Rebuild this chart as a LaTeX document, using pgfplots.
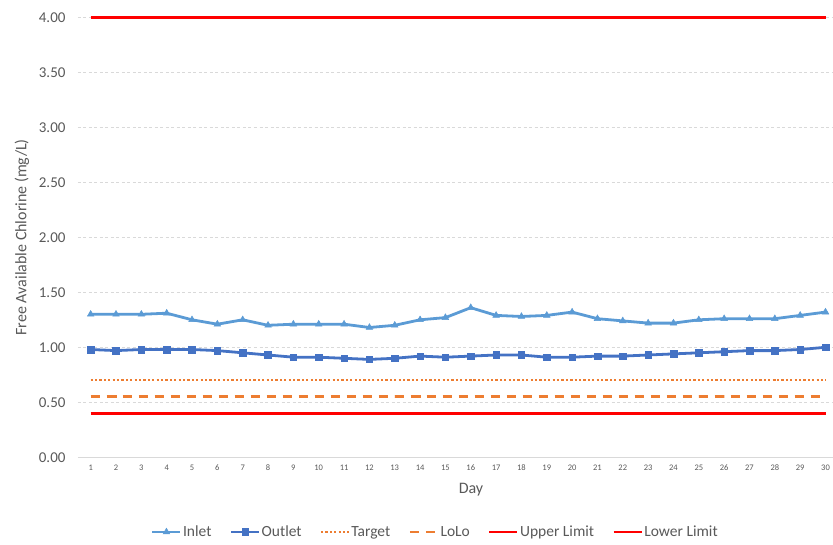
\documentclass[border=0pt]{standalone}
\usepackage{pgfplots}
\pgfplotsset{compat=1.18}
\usepackage{pgfplotstable}
\usepackage{fontspec}
\setmainfont{Carlito}
\definecolor{inlet}{HTML}{5B9BD5}
\definecolor{outlet}{HTML}{4472C4}
\definecolor{orng}{HTML}{ED7D31}
\definecolor{txt}{HTML}{595959}
\definecolor{gridc}{HTML}{D9D9D9}
\definecolor{redl}{HTML}{FF0000}

\pgfplotstableread{
day inlet outlet target lolo upper lower
1  1.30 0.98 0.70 0.55 4.00 0.40
2  1.30 0.97 0.70 0.55 4.00 0.40
3  1.30 0.98 0.70 0.55 4.00 0.40
4  1.31 0.98 0.70 0.55 4.00 0.40
5  1.25 0.98 0.70 0.55 4.00 0.40
6  1.21 0.97 0.70 0.55 4.00 0.40
7  1.25 0.95 0.70 0.55 4.00 0.40
8  1.20 0.93 0.70 0.55 4.00 0.40
9  1.21 0.91 0.70 0.55 4.00 0.40
10 1.21 0.91 0.70 0.55 4.00 0.40
11 1.21 0.90 0.70 0.55 4.00 0.40
12 1.18 0.89 0.70 0.55 4.00 0.40
13 1.20 0.90 0.70 0.55 4.00 0.40
14 1.25 0.92 0.70 0.55 4.00 0.40
15 1.27 0.91 0.70 0.55 4.00 0.40
16 1.36 0.92 0.70 0.55 4.00 0.40
17 1.29 0.93 0.70 0.55 4.00 0.40
18 1.28 0.93 0.70 0.55 4.00 0.40
19 1.29 0.91 0.70 0.55 4.00 0.40
20 1.32 0.91 0.70 0.55 4.00 0.40
21 1.26 0.92 0.70 0.55 4.00 0.40
22 1.24 0.92 0.70 0.55 4.00 0.40
23 1.22 0.93 0.70 0.55 4.00 0.40
24 1.22 0.94 0.70 0.55 4.00 0.40
25 1.25 0.95 0.70 0.55 4.00 0.40
26 1.26 0.96 0.70 0.55 4.00 0.40
27 1.26 0.97 0.70 0.55 4.00 0.40
28 1.26 0.97 0.70 0.55 4.00 0.40
29 1.29 0.98 0.70 0.55 4.00 0.40
30 1.32 1.00 0.70 0.55 4.00 0.40
}\data

\begin{document}
\begin{tikzpicture}
\useasboundingbox (-78pt,-86.7pt) rectangle (755pt,457.3pt);
\begin{axis}[
  at={(0,0)}, anchor=south west,
  scale only axis, width=754.6pt, height=440pt,
  xmin=0.5, xmax=30.28, ymin=0, ymax=4,
  clip=false,
  axis line style={draw=none},
  tick style={draw=none},
  xtick={1,...,30},
  ytick={0,0.5,...,4},
  ymajorgrids,
  grid style={gridc, line width=0.8pt, dash pattern=on 3pt off 2.5pt},
  extra y ticks={0}, extra y tick labels={},
  extra y tick style={grid style={gridc, line width=0.9pt, solid}},
  /pgf/number format/.cd, fixed, fixed zerofill, precision=2, assume math mode=true,
  /pgfplots/.cd,
  yticklabel style={font=\fontsize{15}{15}\selectfont, text=txt, xshift=-9pt},
  xticklabel style={font=\fontsize{8.5}{8.5}\selectfont, text=txt, yshift=-4pt},
  xticklabel={\pgfmathprintnumber[int trunc]{\tick}},
  ylabel={Free Available Chlorine (mg/L)},
  every axis y label/.style={at={(rel axis cs:0,0.5)}, xshift=-56pt, rotate=90, anchor=center, font=\fontsize{16}{16}\selectfont, text=txt},
  xlabel={Day},
  every axis x label/.style={at={(rel axis cs:0,0)}, xshift=393pt, yshift=-32.7pt, anchor=center, font=\fontsize{16}{16}\selectfont, text=txt},
  legend columns=6,
  legend style={at={(rel axis cs:0,0)}, xshift=357pt, yshift=-74.7pt, anchor=center, draw=none, fill=none,
    font=\fontsize{15.5}{15.5}\selectfont, text=txt,
    nodes={inner sep=1.2pt},
    /tikz/every even column/.append style={column sep=17pt},
    /tikz/every odd column/.append style={column sep=0pt}},
  legend image code/.code={\draw[mark repeat=2,mark phase=2,#1] plot coordinates {(0pt,0pt) (14pt,0pt) (28pt,0pt)};},
]
\addplot[inlet, line width=2.8pt, mark=triangle*, mark size=3.8pt, mark options={solid, fill=inlet, line width=0.5pt}] table[x=day, y=inlet] {\data};
\addlegendentry{Inlet}
\addplot[outlet, line width=2.8pt, mark=square*, mark size=3.3pt, mark options={solid, fill=outlet, line width=0.5pt}] table[x=day, y=outlet] {\data};
\addlegendentry{Outlet}
\addplot[orng, line width=2.3pt, dash pattern=on 2.2pt off 2.2pt, no marks] table[x=day, y=target] {\data};
\addlegendentry{Target}
\addplot[orng, line width=2.8pt, dash pattern=on 9.5pt off 6.5pt, no marks] table[x=day, y=lolo] {\data};
\addlegendentry{LoLo}
\addplot[redl, line width=2.8pt, no marks] table[x=day, y=upper] {\data};
\addlegendentry{Upper Limit}
\addplot[redl, line width=2.8pt, no marks] table[x=day, y=lower] {\data};
\addlegendentry{Lower Limit}
\end{axis}
\end{tikzpicture}
\end{document}
